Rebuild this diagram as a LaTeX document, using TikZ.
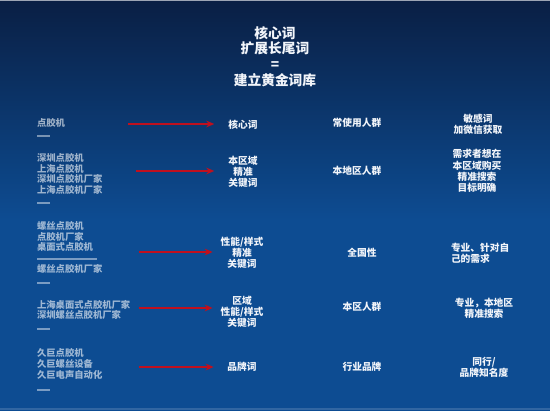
\documentclass[tikz,border=0pt]{standalone}
\usepackage{fontspec}
\setmainfont{Liberation Sans}
\newfontfamily\cjk{Noto Sans CJK SC}
\usetikzlibrary{arrows.meta}
\definecolor{bgtop}{HTML}{0A1F44}
\definecolor{bgbot}{HTML}{0D4C92}
\definecolor{arrred}{HTML}{C0101E}
\definecolor{txt}{HTML}{F2F5FA}
\begin{document}
\begin{tikzpicture}[x=0.75pt,y=-0.75pt,
  every node/.style={inner sep=0pt,outer sep=0pt},
  titletext/.style={align=center,text=txt,font=\cjk\bfseries\fontsize{10.3pt}{11.8pt}\selectfont},
  bodytext/.style={align=center,text=txt,font=\cjk\bfseries\fontsize{7.3pt}{8.4pt}\selectfont},
  blurtext/.style={anchor=west,align=left,text=white,opacity=0.6,font=\cjk\bfseries\fontsize{7pt}{8pt}\selectfont},
  blurline/.style={draw=white,opacity=0.45,line width=1.2pt},
  redarrow/.style={draw=arrred,line width=1.1pt,-{Stealth[length=6pt,width=5pt]}}
]
% background
\shade[top color=bgtop,bottom color=bgbot] (0,0) rectangle (550,220);
\fill[bgbot] (0,219.5) rectangle (550,411);
\useasboundingbox (0,0) rectangle (550,411);
\draw[draw=white,opacity=0.6,line width=0.6pt] (0,0.4) -- (550,0.4);
\draw[draw=white,opacity=0.15,line width=0.8pt] (0,409) -- (550,409);

% title
\node[titletext] (title) at (275,56.5) {核心词\\扩展长尾词\\=\\建立黄金词库};

% left (blurred) keyword lists
\node[blurtext] (l1) at (37,123) {点胶机};
\coordinate (s1a) at (37,136); \coordinate (s1b) at (50,136);
\draw[blurline] (s1a) -- (s1b);
\node[blurtext] (l2) at (37,174) {深圳点胶机\\上海点胶机\\深圳点胶机厂家\\上海点胶机厂家};
\coordinate (s2a) at (37,203); \coordinate (s2b) at (50,203);
\draw[blurline] (s2a) -- (s2b);
\node[blurtext] (l3) at (37,236.5) {螺丝点胶机\\点胶机厂家\\桌面式点胶机};
\coordinate (u3a) at (37,259); \coordinate (u3b) at (97,259);
\draw[blurline,line width=0.9pt] (u3a) -- (u3b);
\node[blurtext] (l3b) at (37,269) {螺丝点胶机厂家};
\coordinate (s3a) at (37,283); \coordinate (s3b) at (50,283);
\draw[blurline] (s3a) -- (s3b);
\node[blurtext] (l4) at (37,310) {上海桌面式点胶机厂家\\深圳螺丝点胶机厂家};
\coordinate (s4a) at (37,329); \coordinate (s4b) at (50,329);
\draw[blurline] (s4a) -- (s4b);
\node[blurtext] (l5) at (37,364) {久巨点胶机\\久巨螺丝设备\\久巨电声自动化};
\coordinate (s5a) at (37,390); \coordinate (s5b) at (50,390);
\draw[blurline] (s5a) -- (s5b);

% keyword type column
\node[bodytext] (k1) at (243,125) {核心词};
\node[bodytext] (k2) at (243,172) {本区域\\精准\\关键词};
\node[bodytext] (k3) at (242,253) {性能/样式\\精准\\关键词};
\node[bodytext] (k4) at (242,312) {区域\\性能/样式\\关键词};
\node[bodytext] (k5) at (242,367) {品牌词};

% audience column
\node[bodytext] (p1) at (357,123) {常使用人群};
\node[bodytext] (p2) at (357,171) {本地区人群};
\node[bodytext] (p3) at (362,253) {全国性};
\node[bodytext] (p4) at (362,307) {本区人群};
\node[bodytext] (p5) at (362,367) {行业品牌};

% description column
\node[bodytext] (d1) at (478,124) {敏感词\\加微信获取};
\node[bodytext] (d2) at (477,171) {需求者想在\\本区域购买\\精准搜索\\目标明确};
\node[bodytext,anchor=west,align=left] (d3) at (451,253) {专业、针对自\\己的需求};
\node[bodytext] (d4) at (484,308) {专业，本地区\\精准搜索};
\node[bodytext] (d5) at (484,367) {同行/\\品牌知名度};

% arrows
\coordinate (a1) at (128,124);
\coordinate (a2) at (136,171);
\coordinate (a3) at (139,252);
\coordinate (a4) at (139,308);
\coordinate (a5) at (139,367);
\draw[redarrow,shorten >=10.6pt] (a1) -- (a1 -| k1.west);
\draw[redarrow,shorten >=10.6pt] (a2) -- (a2 -| k2.west);
\draw[redarrow,shorten >=6pt] (a3) -- (a3 -| k3.west);
\draw[redarrow,shorten >=6pt] (a4) -- (a4 -| k4.west);
\draw[redarrow,shorten >=10.3pt] (a5) -- (a5 -| k5.west);
\end{tikzpicture}
\end{document}
